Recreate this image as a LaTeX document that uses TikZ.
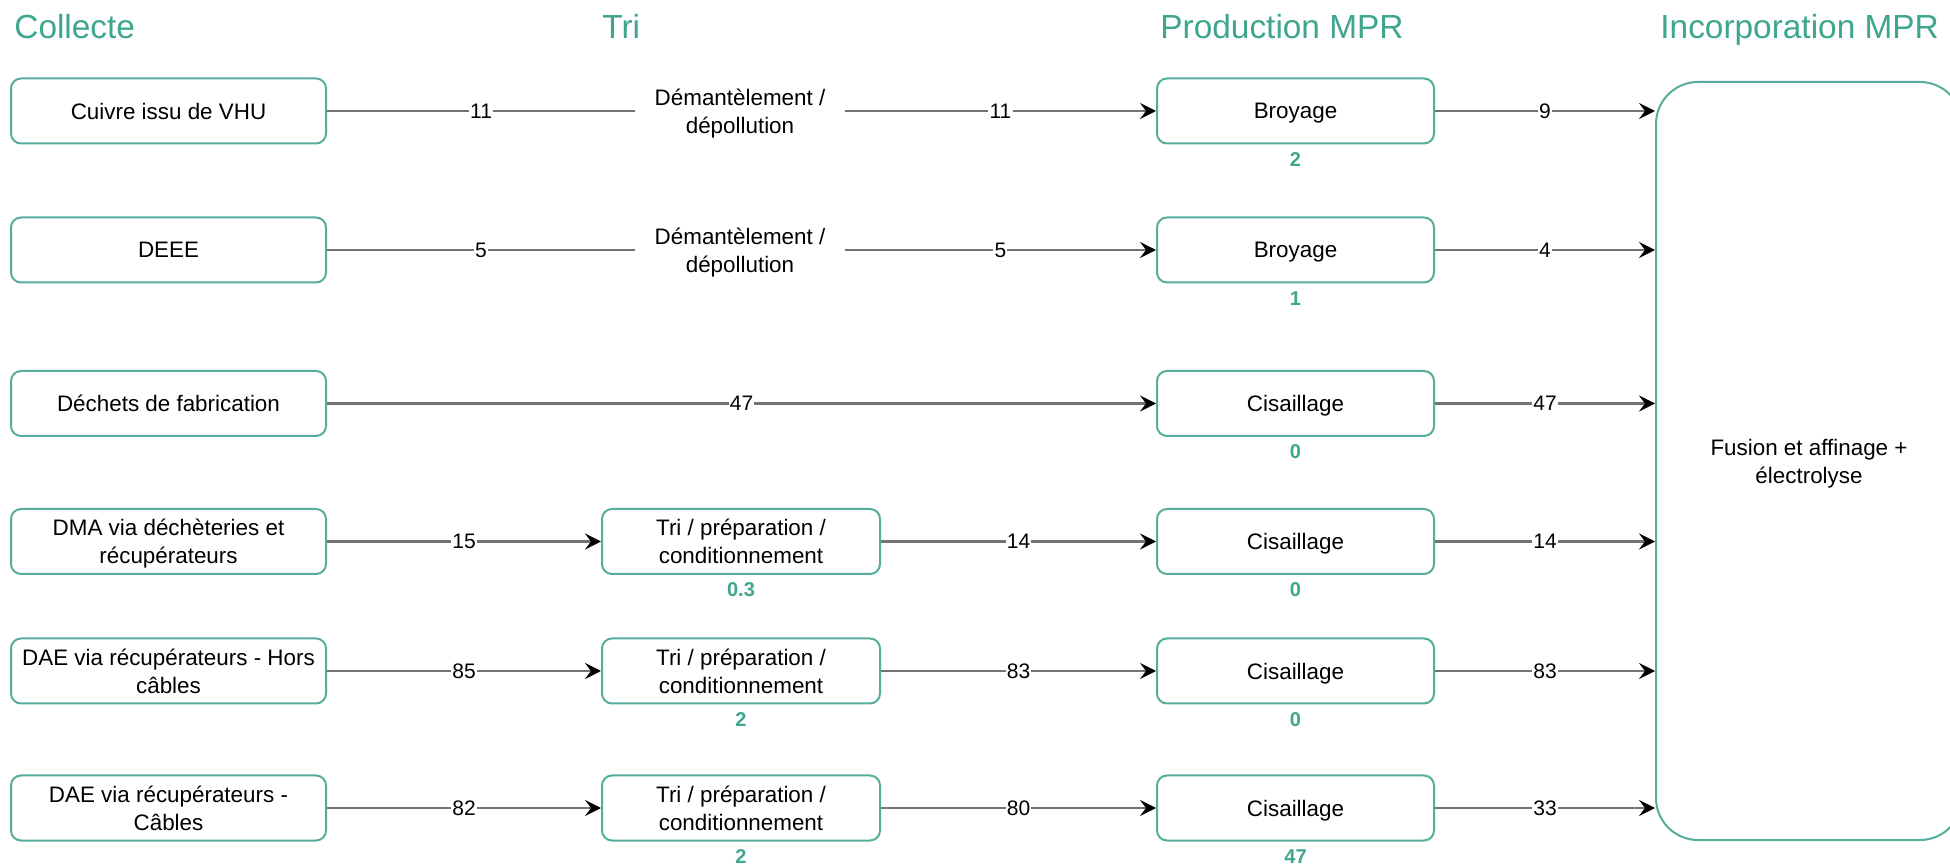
\documentclass[tikz,border=0pt]{standalone}
\usepackage{fontspec}
\setmainfont{Liberation Sans}
\usetikzlibrary{arrows.meta}
\definecolor{boxline}{HTML}{55AE9C}
\definecolor{tealtxt}{HTML}{3FA68E}

\begin{document}
\begin{tikzpicture}[x=0.5pt,y=-0.5pt,
  box/.style={draw=boxline, line width=1pt, rounded corners=5pt, fill=white,
    minimum height=32.5pt, align=center, inner sep=2pt, text depth=0pt,
    font=\fontsize{11.2}{14}\selectfont},
  cbox/.style={box, minimum width=157.5pt},
  tbox/.style={box, minimum width=139pt},
  pbox/.style={box, minimum width=138.5pt},
  plain/.style={align=center, minimum width=104.5pt, inner sep=0pt, text depth=0pt,
    font=\fontsize{11.2}{14}\selectfont},
  title/.style={text=tealtxt, anchor=base west, inner sep=0pt,
    font=\fontsize{16.7}{20}\selectfont},
  num/.style={text=tealtxt, inner sep=0pt, text depth=0pt,
    font=\bfseries\fontsize{10}{12}\selectfont},
  flow/.style={draw=black!55, line width=1.3pt},
  arr/.style={flow, -{Stealth[length=8pt,width=8pt,inset=3pt,color=black]}},
  lab/.style={midway, fill=white, text=black, inner sep=0.6pt,
    font=\fontsize{10.5}{12}\selectfont},
]
\useasboundingbox (0,0) rectangle (1950,865);
\fill[white] (0,0) rectangle (1950,865);

% column headings
\node[title] (tcol)  at (14,39)   {Collecte};
\node[title] (ttri)  at (602,39)  {Tri};
\node[title] (tprod) at (1160,39) {Production MPR};
\node[title] (tinc)  at (1660,39) {Incorporation MPR};

% final stage
\node[box, minimum width=153pt, minimum height=379pt, rounded corners=21pt]
  (inc) at (1809,461) {Fusion et affinage +\\électrolyse};

% collection sources
\node[cbox] (c1) at (168.5,111)   {Cuivre issu de VHU};
\node[cbox] (c2) at (168.5,250)   {DEEE};
\node[cbox] (c3) at (168.5,403.5) {Déchets de fabrication};
\node[cbox] (c4) at (168.5,541.5) {DMA via déchèteries et\\récupérateurs};
\node[cbox] (c5) at (168.5,671)   {DAE via récupérateurs - Hors\\câbles};
\node[cbox] (c6) at (168.5,808)   {DAE via récupérateurs -\\Câbles};

% sorting
\node[plain] (d1) at (740,111) {Démantèlement /\\dépollution};
\node[plain] (d2) at (740,250) {Démantèlement /\\dépollution};
\node[tbox] (t4) at (741,541.5) {Tri / préparation /\\conditionnement};
\node[tbox] (t5) at (741,671)   {Tri / préparation /\\conditionnement};
\node[tbox] (t6) at (741,808)   {Tri / préparation /\\conditionnement};

% secondary raw material production
\node[pbox] (p1) at (1295.5,111)   {Broyage};
\node[pbox] (p2) at (1295.5,250)   {Broyage};
\node[pbox] (p3) at (1295.5,403.5) {Cisaillage};
\node[pbox] (p4) at (1295.5,541.5) {Cisaillage};
\node[pbox] (p5) at (1295.5,671)   {Cisaillage};
\node[pbox] (p6) at (1295.5,808)   {Cisaillage};

% losses under each step
\node[num] (nt4) at ([yshift=-7.5pt]t4.south) {0.3};
\node[num] (nt5) at ([yshift=-7.5pt]t5.south) {2};
\node[num] (nt6) at ([yshift=-7.5pt]t6.south) {2};
\node[num] (np1) at ([yshift=-7.5pt]p1.south) {2};
\node[num] (np2) at ([yshift=-7.5pt]p2.south) {1};
\node[num] (np3) at ([yshift=-7.5pt]p3.south) {0};
\node[num] (np4) at ([yshift=-7.5pt]p4.south) {0};
\node[num] (np5) at ([yshift=-7.5pt]p5.south) {0};
\node[num] (np6) at ([yshift=-7.5pt]p6.south) {47};

% flows
\draw[flow] (c1) -- node[lab]{11} (d1);
\draw[arr]  (d1) -- node[lab]{11} (p1);
\draw[arr]  (p1) -- node[lab]{9}  (p1 -| inc.west);

\draw[flow] (c2) -- node[lab]{5} (d2);
\draw[arr]  (d2) -- node[lab]{5} (p2);
\draw[arr]  (p2) -- node[lab]{4} (p2 -| inc.west);

\draw[arr]  (c3) -- node[lab]{47} (p3);
\draw[arr]  (p3) -- node[lab]{47} (p3 -| inc.west);

\draw[arr]  (c4) -- node[lab]{15} (t4);
\draw[arr]  (t4) -- node[lab]{14} (p4);
\draw[arr]  (p4) -- node[lab]{14} (p4 -| inc.west);

\draw[arr]  (c5) -- node[lab]{85} (t5);
\draw[arr]  (t5) -- node[lab]{83} (p5);
\draw[arr]  (p5) -- node[lab]{83} (p5 -| inc.west);

\draw[arr]  (c6) -- node[lab]{82} (t6);
\draw[arr]  (t6) -- node[lab]{80} (p6);
\draw[arr]  (p6) -- node[lab]{33} (p6 -| inc.west);
\end{tikzpicture}
\end{document}
